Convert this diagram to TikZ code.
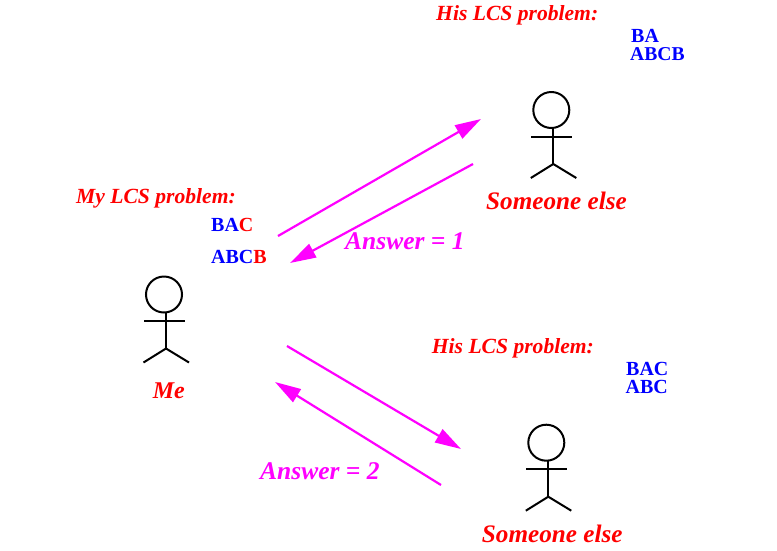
\documentclass[tikz,border=0pt]{standalone}
\usepackage{fontspec}
\setmainfont{Liberation Serif}
\usetikzlibrary{arrows.meta}
\definecolor{lblred}{RGB}{255,0,0}
\definecolor{seqblue}{RGB}{0,0,255}
\definecolor{msgpink}{RGB}{255,0,255}
\tikzset{
  lbl/.style={anchor=base west, inner sep=0pt, font=\bfseries\itshape\fontsize{21.6}{24}\selectfont, text=lblred},
  who/.style={lbl, font=\bfseries\itshape\fontsize{25.2}{27}\selectfont},
  ans/.style={who, font=\bfseries\itshape\fontsize{25.5}{27}\selectfont, text=msgpink},
  seq/.style={anchor=base west, inner sep=0pt, font=\bfseries\fontsize{20}{22}\selectfont, text=seqblue},
  msg/.style={msgpink, line width=2.2pt, -{Triangle[length=26pt,width=15pt]}},
  stickman/.pic={
    \draw[line width=2pt] (0,0) circle (18);
    \draw[line width=2pt] (2,18) -- (2,54);
    \draw[line width=2pt] (-20,26.5) -- (21,26.5);
    \draw[line width=2pt] (-20.5,68) -- (2,54) -- (25,68);
  }
}
\begin{document}
\begin{tikzpicture}[x=1pt,y=-1pt]
\useasboundingbox (0,0) rectangle (777,550);
\pic at (164,294.5) {stickman}; %me
\pic at (551.3,110) {stickman};
\pic at (546.3,442.7) {stickman};
\node[lbl] (myprob) at (76,203) {My LCS problem:};
\node[seq] (mya) at (211,231) {BA\textcolor{lblred}{C}};
\node[seq] (myb) at (211,263) {ABC\textcolor{lblred}{B}};
\node[who,font=\bfseries\itshape\fontsize{24}{26}\selectfont] (me) at (152.7,398.7) {Me};
\node[lbl] (hisprob1) at (436,20) {His LCS problem:};
\node[seq] (hisa1) at (631,42.4) {BA};
\node[seq,font=\bfseries\fontsize{19.6}{22}\selectfont] (hisb1) at (630,60) {ABCB};
\node[who] (else1) at (486,209.3) {Someone else};
\node[lbl] (hisprob2) at (431.7,353) {His LCS problem:};
\node[seq] (hisa2) at (626,375.5) {BAC};
\node[seq] (hisb2) at (625.5,393) {ABC};
\node[who] (else2) at (481.7,542.7) {Someone else};
\node[ans] (ans1) at (345,249) {Answer = 1};
\node[ans] (ans2) at (260,479) {Answer = 2};
%arrow ends
\coordinate (a1) at (278,236);
\coordinate (a2) at (481,119);
\coordinate (b1) at (473,164);
\coordinate (b2) at (290,263);
\coordinate (c1) at (287,346);
\coordinate (c2) at (461,449);
\coordinate (d1) at (441,485);
\coordinate (d2) at (275,382);
\draw[msg] (a1) -- (a2);
\draw[msg] (b1) -- (b2);
\draw[msg] (c1) -- (c2);
\draw[msg] (d1) -- (d2);
\end{tikzpicture}
\end{document}
